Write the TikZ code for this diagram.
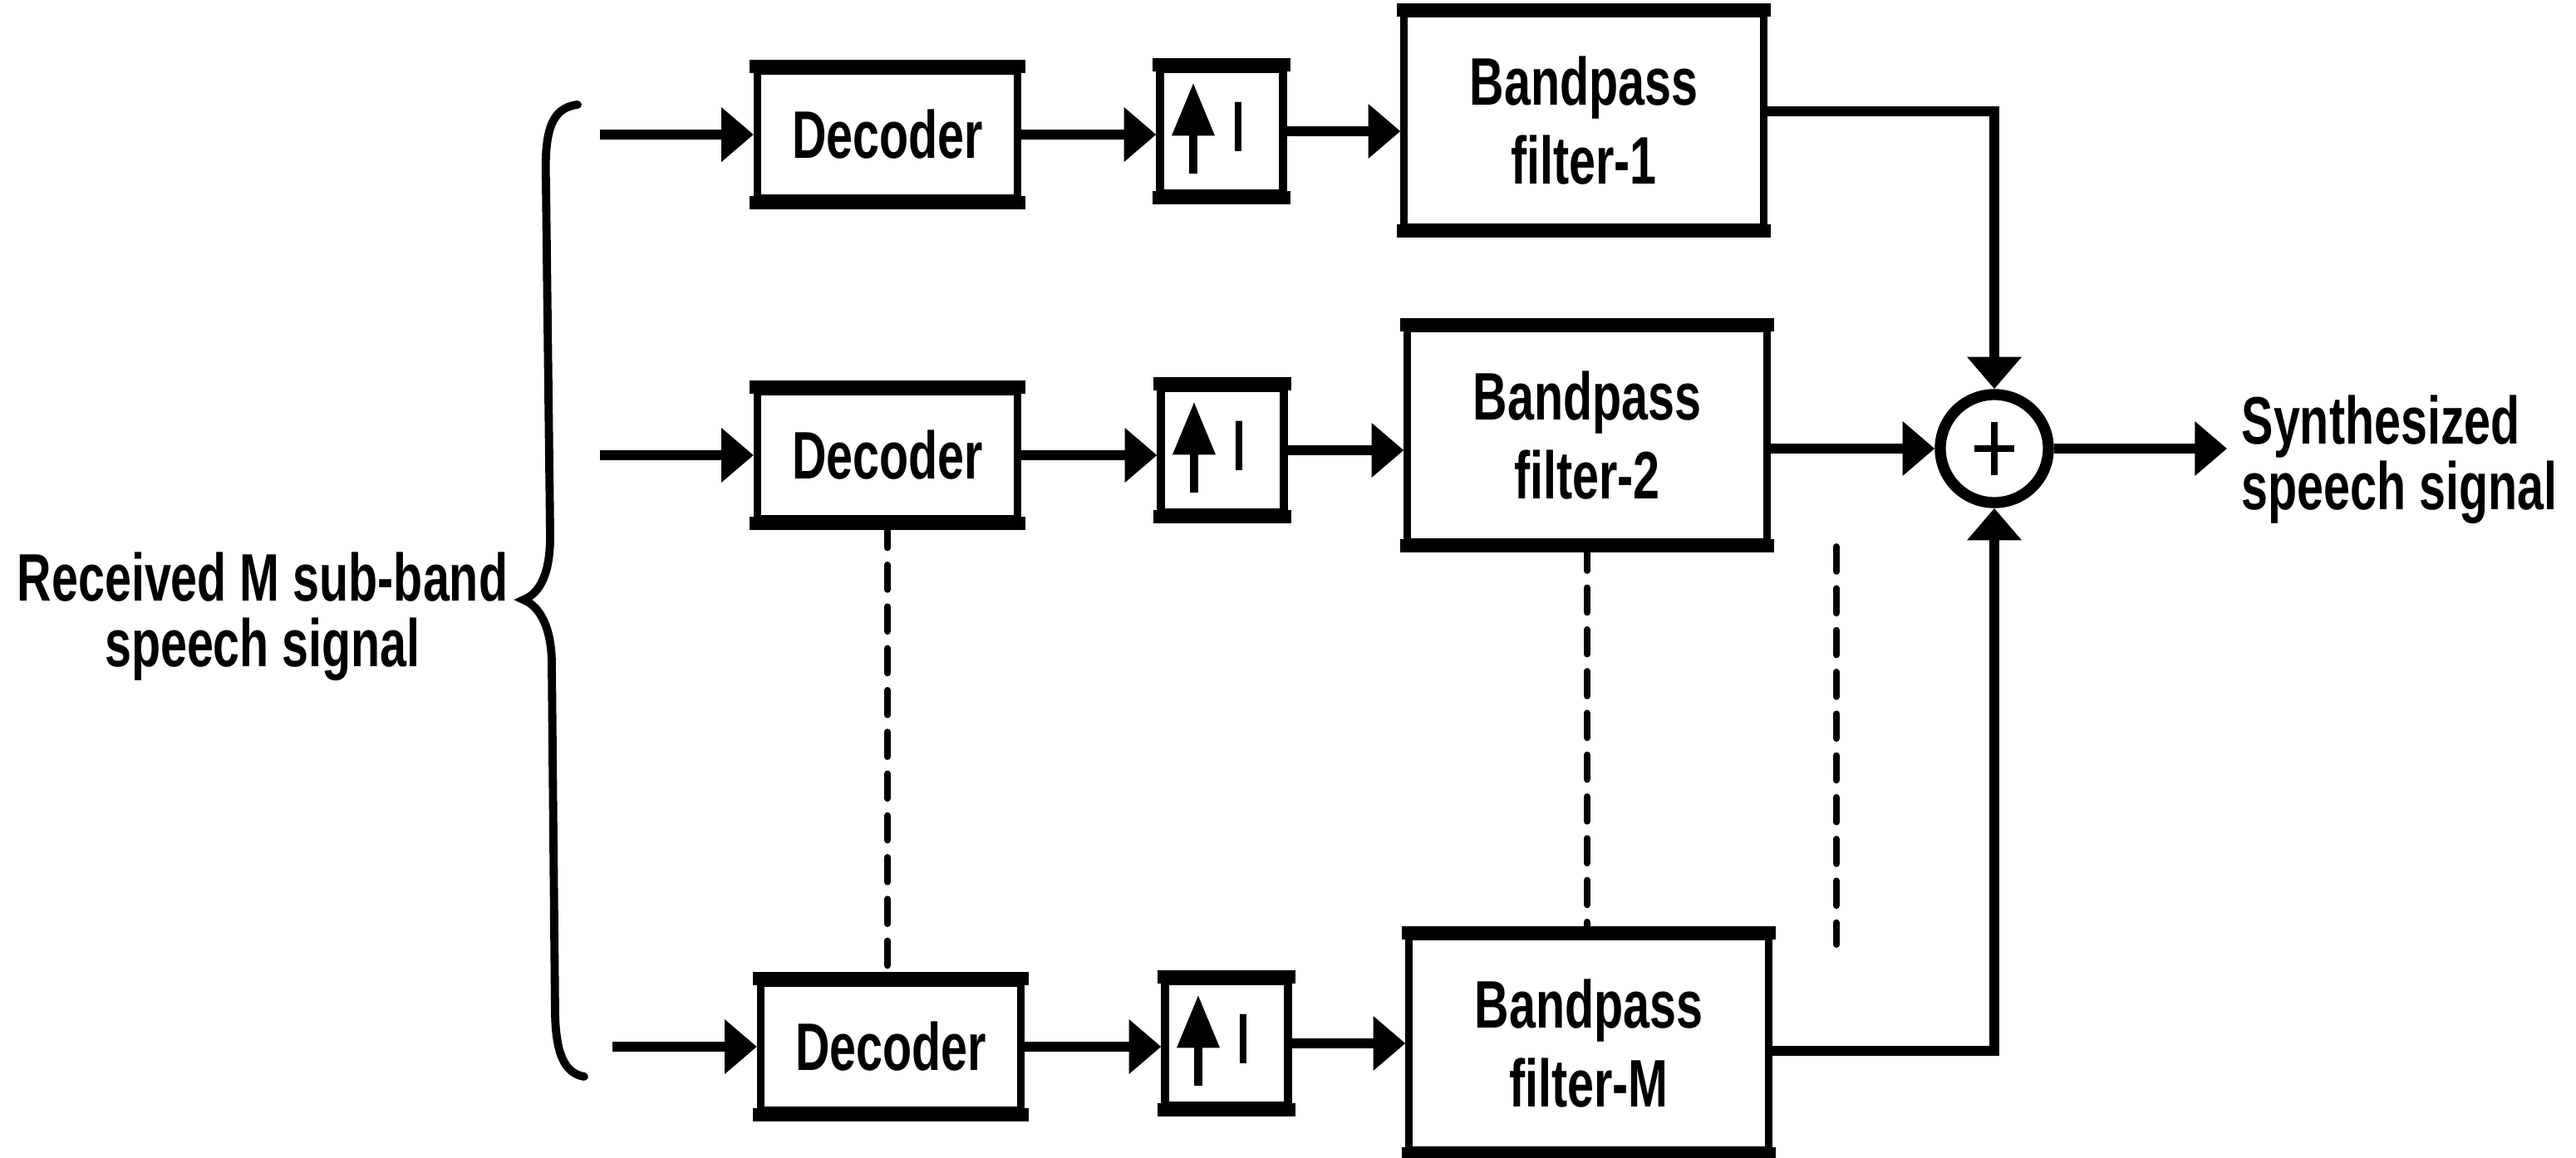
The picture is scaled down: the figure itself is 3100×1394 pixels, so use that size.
\documentclass[tikz,border=0pt]{standalone}
\usepackage{fontspec}
\setmainfont{Liberation Sans}
\newfontfamily\condfont{Liberation Sans}[FakeStretch=0.71]
\usetikzlibrary{arrows.meta}
\begin{document}
\begin{tikzpicture}[x=0.01cm,y=-0.01cm,
  box/.style={draw, line width=2.6pt, inner sep=0pt, align=center,
    font=\condfont\fontsize{23}{27}\selectfont\bfseries},
  decbox/.style={box, minimum width=3.13cm, minimum height=1.54cm},
  upsbox/.style={box, minimum width=1.48cm, minimum height=1.50cm},
  bpfbox/.style={box, minimum width=4.32cm, minimum height=2.57cm},
  edge/.style={line width=4.5pt, shorten <=-1.3pt, shorten >=-1.3pt},
  arr/.style={line width=3.6pt, -{Triangle[length=11pt,width=18pt]}},
  dsh/.style={line width=2.2pt, line cap=round, dash pattern=on 8.5pt off 5.8pt},
  lbl/.style={font=\condfont\fontsize{23}{22.5}\selectfont\bfseries, inner sep=0pt}]
\useasboundingbox (0,0) rectangle (3100,1394);

% blocks
\node[decbox] (dec1) at (1068,162) {Decoder};
\node[decbox] (dec2) at (1068,548) {Decoder};
\node[decbox] (dec3) at (1072,1260) {Decoder};
\node[upsbox] (up1) at (1470,158) {};
\node[upsbox] (up2) at (1471,542) {};
\node[upsbox] (up3) at (1476,1256) {};
\node[bpfbox] (bpf1) at (1906,145) {Bandpass\\filter-1};
\node[bpfbox] (bpf2) at (1910,524) {Bandpass\\filter-2};
\node[bpfbox] (bpf3) at (1912,1256) {Bandpass\\filter-M};
\node[draw, circle, line width=3.8pt, minimum size=1.30cm, inner sep=0pt] (sum) at (2400,540) {};
\draw[line width=2.3pt] ([xshift=-0.24cm]sum.center) -- ([xshift=0.24cm]sum.center);
\draw[line width=2.3pt] ([yshift=-0.32cm]sum.center) -- ([yshift=0.32cm]sum.center);

% thick top and bottom edges of the boxes
\foreach \n in {dec1,dec2,dec3,up1,up2,up3,bpf1,bpf2,bpf3}{
  \draw[edge] (\n.north west) -- (\n.north east);
  \draw[edge] (\n.south west) -- (\n.south east);
}

% upsampler symbols
\foreach \n in {up1,up2,up3}{
  \draw[line width=2.6pt, -{Triangle[length=18pt,width=14pt]}]
    ([xshift=-0.34cm,yshift=-0.51cm]\n.center) -- ([xshift=-0.34cm,yshift=0.58cm]\n.center);
  \node[font=\fontsize{24.5}{24.5}\selectfont, inner sep=0pt] (I\n) at ([xshift=0.2cm,yshift=0.05cm]\n.center) {I};
}

% inputs
\coordinate (in1) at (722,162);
\coordinate (in2) at (722,548);
\coordinate (in3) at (737,1260);
\draw[arr] (in1) -- (dec1.west);
\draw[arr] (in2) -- (dec2.west);
\draw[arr] (in3) -- (dec3.west);

% chain connectors
\draw[arr] (dec1.east) -- (dec1.east -| up1.west);
\draw[arr] (dec2.east) -- (dec2.east -| up2.west);
\draw[arr] (dec3.east) -- (dec3.east -| up3.west);
\draw[arr] (up1.east) -- (up1.east -| bpf1.west);
\draw[arr] (up2.east) -- (up2.east -| bpf2.west);
\draw[arr] (up3.east) -- (up3.east -| bpf3.west);

% to the summer
\draw[arr] (bpf1.east |- 0,134) -| (sum.north);
\draw[arr] (bpf2.east |- sum.west) -- (sum.west);
\draw[arr] (bpf3.east |- 0,1265) -| (sum.south);

% output
\coordinate (out) at (2680,540);
\draw[arr] (sum.east) -- (out);
\node[lbl, anchor=west, align=left] (outlbl) at (2697,553) {Synthesized\\speech signal};

% input label and brace
\node[lbl, align=center] (inlbl) at (316,742) {Received M sub-band\\speech signal};
\draw[line width=2.8pt, line cap=round]
  (695,126) .. controls (662,130) and (655,160) .. (657,220)
  -- (662,640) .. controls (663,690) and (650,714) .. (630,722)
  .. controls (650,730) and (664,756) .. (664,800)
  -- (668,1220) .. controls (669,1270) and (680,1292) .. (703,1296);

% dashed continuation marks
\draw[dsh] (dec2.south) -- (dec2.south |- dec3.north);
\draw[dsh] (bpf2.south) -- (bpf2.south |- bpf3.north);
\coordinate (d3a) at (2210,658);
\coordinate (d3b) at (2210,1137);
\draw[dsh] (d3a) -- (d3b);
\end{tikzpicture}
\end{document}
